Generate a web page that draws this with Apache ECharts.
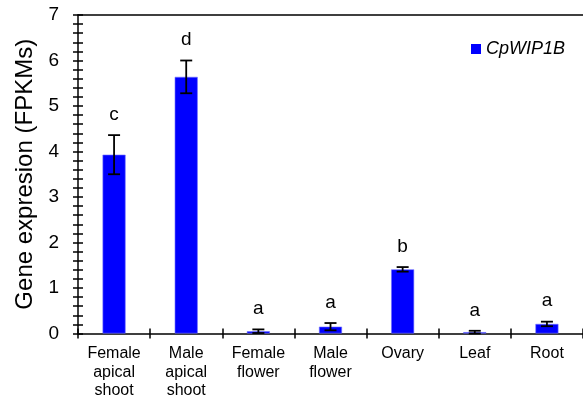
<!DOCTYPE html>
<html>
<head>
<meta charset="utf-8">
<script src="https://cdn.jsdelivr.net/npm/echarts@6/dist/echarts.min.js"></script>
<style>html,body{margin:0;padding:0;background:#fff;}#c{width:583px;height:400px;}</style>
</head>
<body>
<div id="c"></div>
<script>
var categories = ['Female\napical\nshoot', 'Male\napical\nshoot', 'Female\nflower', 'Male\nflower', 'Ovary', 'Leaf', 'Root'];
var values = [3.93, 5.64, 0.05, 0.15, 1.41, 0.03, 0.21];
var errors = [0.43, 0.36, 0.04, 0.08, 0.05, 0.03, 0.05];
var letters = ['c', 'd', 'a', 'a', 'b', 'a', 'a'];
var yTicks = [0, 1, 2, 3, 4, 5, 6, 7];
var seriesName = 'CpWIP1B';

var FONT = 'Liberation Sans, Arial, sans-serif';
var chart = echarts.init(document.getElementById('c'), null, {renderer: 'canvas'});

var errData = values.map(function (v, i) { return [i, v, errors[i]]; });

var option = {
  animation: false,
  backgroundColor: '#fff',
  textStyle: {fontFamily: FONT},
  grid: {left: 78, right: -2, top: 15, bottom: 65, containLabel: false},
  legend: {
    data: [{name: seriesName, icon: 'rect', itemStyle: {borderWidth: 0, color: '#0000ff'}}],
    left: 466, top: 35,
    itemWidth: 10, itemHeight: 10,
    textStyle: {fontFamily: FONT, fontSize: 18, fontStyle: 'italic', color: '#000'}
  },
  xAxis: [
    {
      type: 'category', data: categories, position: 'bottom',
      axisLine: {show: true, lineStyle: {color: '#000', width: 1.5}},
      axisTick: {show: true, alignWithLabel: false, length: 5, lineStyle: {color: '#000', width: 1.5}},
      axisLabel: {interval: 0, fontFamily: FONT, fontSize: 16, lineHeight: 18.5, color: '#000', margin: 11},
      splitLine: {show: false}
    },
    {
      type: 'category', data: categories, position: 'bottom',
      axisLine: {show: false},
      axisTick: {show: true, inside: true, alignWithLabel: false, length: 5, lineStyle: {color: '#000', width: 1.5}},
      axisLabel: {show: false},
      splitLine: {show: false}
    },
    {
      type: 'category', data: categories, position: 'top',
      axisLine: {show: true, lineStyle: {color: '#000', width: 1.5}},
      axisTick: {show: false},
      axisLabel: {show: false},
      splitLine: {show: false}
    }
  ],
  yAxis: [
    {
      type: 'value', min: yTicks[0], max: yTicks[yTicks.length - 1], interval: 1,
      name: 'Gene expresion (FPKMs)', nameLocation: 'middle', nameGap: 38,
      nameTextStyle: {fontFamily: FONT, fontSize: 24, color: '#000'},
      axisLine: {show: true, lineStyle: {color: '#000', width: 1.5}},
      axisTick: {show: true, length: 5, lineStyle: {color: '#000', width: 1.5}},
      minorTick: {show: true, splitNumber: 5, length: 5, lineStyle: {color: '#000', width: 1.5}},
      axisLabel: {fontFamily: FONT, fontSize: 19, color: '#000', margin: 19},
      splitLine: {show: false}
    },
    {
      type: 'value', min: yTicks[0], max: yTicks[yTicks.length - 1], interval: 1, position: 'left',
      axisLine: {show: false},
      axisTick: {show: true, inside: true, length: 5, lineStyle: {color: '#000', width: 1.5}},
      minorTick: {show: true, splitNumber: 5, length: 5, lineStyle: {color: '#000', width: 1.5}},
      axisLabel: {show: false},
      splitLine: {show: false}
    }
  ],
  series: [
    {
      name: seriesName, type: 'bar', data: values, barWidth: 23,
      itemStyle: {color: '#0000ff', borderColor: '#7070ff', borderWidth: 0.6}
    },
    {
      name: 'err', type: 'custom', data: errData, z: 10,
      encode: {x: 0, y: 1},
      renderItem: function (params, api) {
        var i = api.value(0), v = api.value(1), e = api.value(2);
        var letter = letters[params.dataIndex];
        var top = api.coord([i, v + e]);
        var bot = api.coord([i, Math.max(v - e, 0)]);
        var hw = 6;
        var st = {stroke: '#000', lineWidth: 1.8};
        return {
          type: 'group',
          children: [
            {type: 'line', shape: {x1: top[0], y1: top[1], x2: bot[0], y2: bot[1]}, style: st},
            {type: 'line', shape: {x1: top[0] - hw, y1: top[1], x2: top[0] + hw, y2: top[1]}, style: st},
            {type: 'line', shape: {x1: bot[0] - hw, y1: bot[1], x2: bot[0] + hw, y2: bot[1]}, style: st},
            {type: 'text', style: {text: letter, x: top[0], y: top[1] - 11, align: 'center', verticalAlign: 'bottom',
              font: '19px ' + FONT, fill: '#000'}}
          ]
        };
      }
    }
  ]
};
chart.setOption(option);
</script>
</body>
</html>
